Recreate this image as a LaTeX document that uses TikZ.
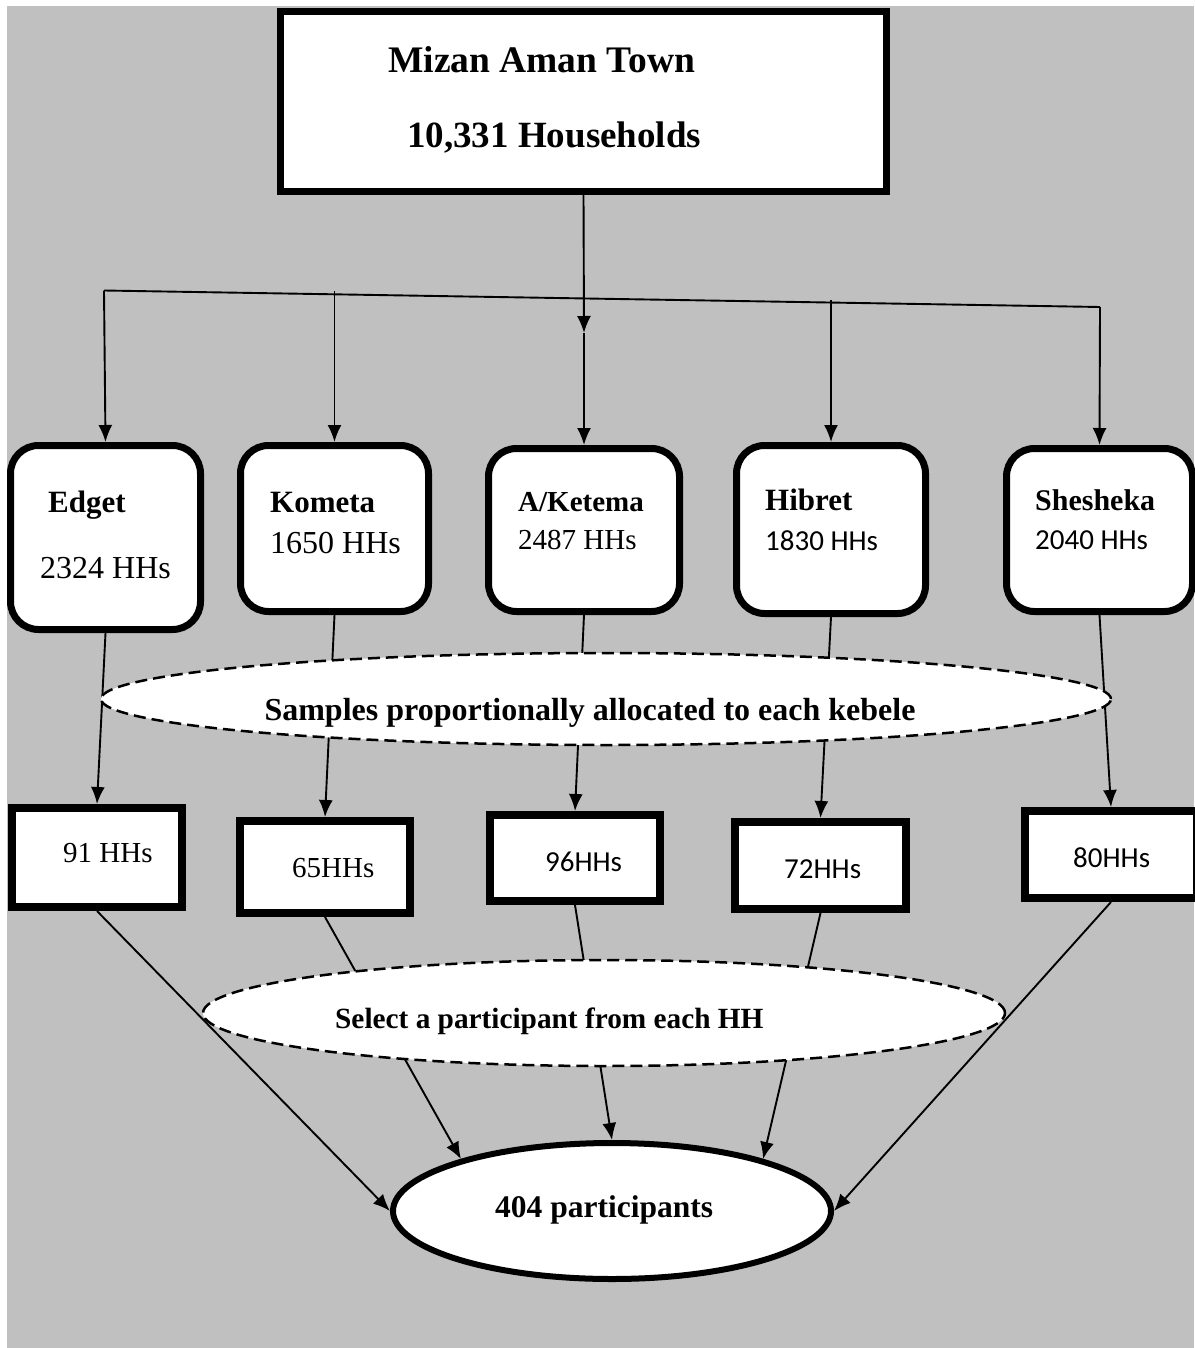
\documentclass[tikz,border=0pt]{standalone}
\usepackage{fontspec}
\setmainfont{Liberation Serif}
\newfontfamily\calibri{Carlito}
\usetikzlibrary{arrows.meta,shapes.geometric}
\definecolor{bggray}{RGB}{192,192,192}
\newcommand{\fsz}[1]{\fontsize{#1}{#1}\selectfont}

\begin{document}
\begin{tikzpicture}[x=1pt,y=-1pt,>={Latex[length=17pt,width=14pt]}]
\tikzstyle{every node}+=[inner sep=0pt]
\tikzstyle{bigbox}=[draw,fill=white,line width=7pt]
\tikzstyle{kebele}=[draw,fill=white,line width=7pt,rounded corners=28pt]
\tikzstyle{share}=[draw,fill=white,line width=8pt]
\tikzstyle{dashcloud}=[ellipse,draw,fill=white,line width=2.5pt,dash pattern=on 12pt off 6pt]
\tikzstyle{link}=[line width=1.9pt]
\tikzstyle{kname}=[anchor=base west,font={\bfseries\fsz{31}}]
\tikzstyle{kcount}=[anchor=base west,font={\fsz{31}}]
\tikzstyle{ccount}=[anchor=base west,font={\calibri\fsz{29}}]
\useasboundingbox (0,0) rectangle (1194,1348);
\fill [bggray] (7,6) rectangle (1194,1348);
% town
\node [bigbox,minimum width=606pt,minimum height=180pt] (town) at (583.5,101.5) {};
\node [anchor=base west,font={\bfseries\fsz{37.5}}] (townname) at (388,73) {Mizan Aman Town};
\node [anchor=base west,font={\bfseries\fsz{37}}] (townhh) at (407,148) {10,331 Households};
% kebeles
\node [kebele,minimum width=190pt,minimum height=184pt] (edget) at (105.5,537.5) {};
\node [kname] (edgetname) at (48,512) {Edget};
\node [kcount,font={\fsz{32}}] (edgethh) at (40,578) {2324 HHs};
\node [kebele,minimum width=188pt,minimum height=166pt] (kometa) at (334.5,528.5) {};
\node [kname] (kometaname) at (270,512) {Kometa};
\node [kcount,font={\fsz{32}}] (kometahh) at (270,553) {1650 HHs};
\node [kebele,minimum width=191pt,minimum height=163pt] (aketema) at (584,530) {};
\node [kname,font={\bfseries\fsz{29}}] (aketemaname) at (518,511) {A/Ketema};
\node [kcount,font={\fsz{29}}] (aketemahh) at (518,549) {2487 HHs};
\node [kebele,minimum width=189pt,minimum height=168pt] (hibret) at (831,529.5) {};
\node [kname] (hibretname) at (765,510) {Hibret};
\node [ccount] (hibrethh) at (765,550) {1830 HHs};
\node [kebele,minimum width=186pt,minimum height=163pt] (sheshka) at (1099.5,530) {};
\node [kname,font={\bfseries\fsz{30}}] (sheshkaname) at (1035,510) {Shesheka};
\node [ccount] (sheshkahh) at (1035,549) {2040 HHs};
% samples
\node [share,minimum width=170pt,minimum height=99pt] (s91) at (97,857.5) {};
\node [kcount,font={\fsz{29}}] (s91text) at (63,862) {91 HHs};
\node [share,minimum width=170pt,minimum height=92pt] (s65) at (325,867) {};
\node [kcount,font={\fsz{29}}] (s65text) at (292,877) {65HHs};
\node [share,minimum width=170pt,minimum height=86pt] (s96) at (575,858) {};
\node [ccount] (s96text) at (545,871) {96HHs};
\node [share,minimum width=171pt,minimum height=87pt] (s72) at (820.5,865.5) {};
\node [ccount] (s72text) at (784,878) {72HHs};
\node [share,minimum width=172pt,minimum height=87pt] (s80) at (1111,854.5) {};
\node [ccount] (s80text) at (1073,867) {80HHs};
% total
\node [ellipse,draw,fill=white,line width=6pt,minimum width=438pt,minimum height=136pt] (total) at (612,1211) {};
\node [anchor=base west,font={\bfseries\fsz{31.5}}] (totaltext) at (495,1217) {404 participants};
% split of the town
\coordinate (dropE) at (104,290.5);
\coordinate (dropK) at (334.5,291);
\coordinate (split) at (584,333);
\coordinate (dropH) at (831,300);
\coordinate (dropS) at (1100,307);
\draw [link] (dropE) -- (dropS);
\draw [link,->] (town.south) -- (split);
\draw [link,->] (split) -- (aketema.north);
\draw [link,->] (dropE) -- (edget.north);
\draw [link,->] (dropK) -- (kometa.north);
\draw [link,->] (dropH) -- (hibret.north);
\draw [link,->] (dropS) -- (sheshka.north);
% kebele to sample
\draw [link,->] (edget.south) -- (s91.north);
\draw [link,->] (kometa.south) -- (s65.north);
\draw [link,->] (aketema.south) -- (s96.north);
\draw [link,->] (hibret.south) -- (s72.north);
\draw [link,->] (sheshka.south) -- (s80.north);
% sample to total
\draw [link,->] (s91.south) -- (total.west);
\draw [link,->] (s65.south) -- (total.161);
\draw [link,->] (s96.south) -- (total.north);
\draw [link,->] (s72.south) -- (total.19);
\draw [link,->] (s80.south) -- (total.east);
% dashed steps
\node [dashcloud,minimum width=1010pt,minimum height=92pt] (alloc) at (606,699) {};
\node [anchor=base,font={\bfseries\fsz{32}}] (alloctext) at (590,720) {Samples proportionally allocated to each kebele};
\node [dashcloud,minimum width=802pt,minimum height=106pt] (select) at (604,1013) {};
\node [anchor=base west,font={\bfseries\fsz{29.3}}] (selecttext) at (335,1028) {Select a participant from each HH};
\end{tikzpicture}
\end{document}
